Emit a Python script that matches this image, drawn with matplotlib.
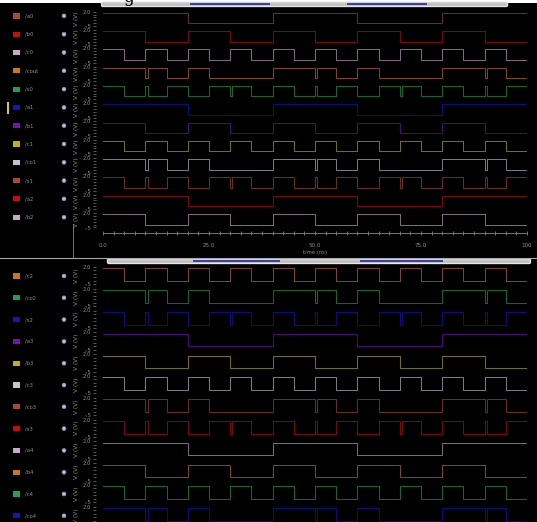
import numpy as np
import matplotlib
matplotlib.use("Agg")
import matplotlib.pyplot as plt
from matplotlib.patches import Rectangle, Circle, FancyBboxPatch

W, H = 537, 522

# SIGNALS #########################################################

top_names = ["/a0", "/b0", "/c0", "/cout", "/s0", "/a1",
             "/b1", "/c1", "/co1", "/s1", "/a2", "/b2"]
bottom_names = ["/c2", "/co2", "/s2", "/a3", "/b3", "/c3",
                "/co3", "/s3", "/a4", "/b4", "/c4", "/co4"]

top_colors = ["#c4583a", "#e21212", "#f2c6ee", "#f08c1e", "#22c05c", "#1818e6",
              "#8c16d4", "#e2d214", "#e6e6fa", "#c4583a", "#e21212", "#f2c6ee"]
bottom_colors = ["#f08c1e", "#22c05c", "#1818e6", "#8c16d4", "#e2d214", "#e6e6fa",
                 "#c4583a", "#e21212", "#f2c6ee", "#f08c1e", "#22c05c", "#1818e6"]

# logic level in each 5 ns slot, 0..100 ns
a_levels = [1, 1, 1, 1, 0, 0, 0, 0, 1, 1, 1, 1, 0, 0, 0, 0, 1, 1, 1, 1]
b_levels = [1, 1, 0, 0, 1, 1, 0, 0, 1, 1, 0, 0, 1, 1, 0, 0, 1, 1, 0, 0]
c_levels = [1, 0, 1, 0, 1, 0, 1, 0, 1, 0, 1, 0, 1, 0, 1, 0, 1, 0, 1, 0]
carry_levels = [1, 1, 1, 0, 1, 0, 0, 0, 1, 1, 1, 0, 1, 0, 0, 0, 1, 1, 1, 0]
sum_levels = [1, 0, 0, 1, 0, 1, 1, 0, 1, 0, 0, 1, 0, 1, 1, 0, 1, 0, 0, 1]

# short glitches (ns) at the switching instants
carry_glitches = [10, 50, 90]
sum_glitches = [10, 30, 50, 70, 90]

signal_data = {
    "a": (a_levels, []), "b": (b_levels, []), "c": (c_levels, []),
    "co": (carry_levels, carry_glitches), "s": (sum_levels, sum_glitches),
}
top_kinds = ["a", "b", "c", "co", "s", "a", "b", "c", "co", "s", "a", "b"]
bottom_kinds = ["c", "co", "s", "a", "b", "c", "co", "s", "a", "b", "c", "co"]

SLOT = 5.0
GLITCH_W = 0.5
VDD = 1.8

time_ticks = [0, 25, 50, 75, 100]
time_labels = ["0.0", "25.0", "50.0", "75.0", "100"]


def trace(levels, glitches):
    times = list(SLOT * np.arange(len(levels))) + [SLOT * len(levels)]
    vals = list(levels) + [levels[-1]]
    for g in sorted(glitches, reverse=True):
        k = int(round(g / SLOT))
        v = levels[k]
        vals[k] = 1 - v
        times.insert(k + 1, g + GLITCH_W)
        vals.insert(k + 1, v)
    return np.array(times), VDD * np.array(vals)


def px_axes(x0, y0, x1, y1):
    return fig.add_axes([x0 / W, 1 - y1 / H, (x1 - x0) / W, (y1 - y0) / H])


fig = plt.figure(figsize=(W / 100, H / 100), dpi=100)
fig.patch.set_facecolor("black")

# background layer in pixel coordinates
bg = fig.add_axes([0, 0, 1, 1])
bg.set_xlim(0, W)
bg.set_ylim(H, 0)
bg.axis("off")

X0, X1 = 103, 527
TEXT_GRAY = "#8e8e8e"


def scrollbar(y, x0, x1, blues):
    bg.add_patch(FancyBboxPatch((x0, y), x1 - x0, 3.5,
                                boxstyle="round,pad=0.6,rounding_size=1.5",
                                fc="#c4c4c4", ec="#eeeeee", lw=0.8))
    for b0, b1 in blues:
        bg.add_patch(Rectangle((b0, y + 0.8), b1 - b0, 2.0, fc="#3e3ea8", ec="none"))


def draw_panel(names, colors, kinds, y_first, step, label_dy):
    half = step / 2 - 0.4
    for i, (name, col, kind) in enumerate(zip(names, colors, kinds)):
        cy = y_first + i * step
        ly = cy + label_dy
        bg.add_patch(Rectangle((13, ly - 2.6), 7, 5.2, fc=col, ec="none", alpha=0.85))
        bg.text(25, ly, name, fontsize=3.8, color=TEXT_GRAY, va="center", ha="left")
        bg.add_patch(Circle((64, ly), 2.0, fc="#b8bae0", ec="#7a7cb0", lw=0.4))
        bg.text(76.5, cy - 0.5, "V (V)", rotation=90, fontsize=4.2, color=TEXT_GRAY,
                ha="center", va="center")

        ax = px_axes(X0, cy - half, X1, cy + half)
        ax.patch.set_alpha(0)
        ax.set_xlim(0, 100)
        ax.set_ylim(-0.8, 2.2)
        for s in ax.spines.values():
            s.set_visible(False)
        ax.spines["left"].set_position(("outward", 5))
        ax.set_xticks([])
        ax.set_yticks([-0.5, 2.0])
        ax.set_yticklabels(["-.5", "2.0"])
        ax.set_yticks([0.0, 0.5, 1.0, 1.5], minor=True)
        ax.tick_params(axis="y", which="both", length=2, width=0.5, color="#7a7a7a",
                       labelsize=3.8, labelcolor=TEXT_GRAY, pad=1.5)

        levels, glitches = signal_data[kind]
        t, v = trace(levels, glitches)
        ax.plot(t, v, drawstyle="steps-post", color=col, lw=0.7, alpha=0.55)


# page strip and caption remnant
bg.add_patch(Rectangle((0, 0), W, 3, fc="white", ec="none"))
bg.text(128, 1.5, "g", fontsize=12, family="DejaVu Serif", color="black",
        ha="center", va="baseline")

scrollbar(2.5, 102, 507, [(190, 270), (347, 427)])

# TOP PANEL #######################################################

draw_panel(top_names, top_colors, top_kinds, 19.2, 18.3, -3.3)
bg.add_patch(Rectangle((7, 102), 2, 12, fc="#d8cc30", ec="none"))

ax_time = px_axes(X0, 228, X1, 233)
ax_time.patch.set_alpha(0)
ax_time.set_xlim(0, 100)
for side in ["top", "left", "right"]:
    ax_time.spines[side].set_visible(False)
ax_time.spines["bottom"].set_color("#8a8a8a")
ax_time.spines["bottom"].set_linewidth(0.6)
ax_time.spines["bottom"].set_linestyle((0, (2, 1)))
ax_time.set_yticks([])
ax_time.set_xticks(time_ticks)
ax_time.set_xticklabels(time_labels)
ax_time.set_xticks(np.arange(0, 100.1, 2.5), minor=True)
ax_time.tick_params(axis="x", which="both", direction="inout", length=3, width=0.5,
                    color="#9a9a9a", labelsize=4.0, labelcolor=TEXT_GRAY, pad=6)
ax_time.set_xlabel("time (ns)", fontsize=3.8, color=TEXT_GRAY, labelpad=1)

bg.plot([73, 73], [224, 257], color="#8a8a8a", lw=0.6)
bg.plot([0, W], [257.5, 257.5], color="#a8a8a8", lw=0.8)

# BOTTOM PANEL ####################################################

scrollbar(259.5, 108, 530, [(193, 280), (360, 443)])
draw_panel(bottom_names, bottom_colors, bottom_kinds, 276.0, 21.8, 0.0)

fig.savefig("out.png", dpi=100, facecolor=fig.get_facecolor())
